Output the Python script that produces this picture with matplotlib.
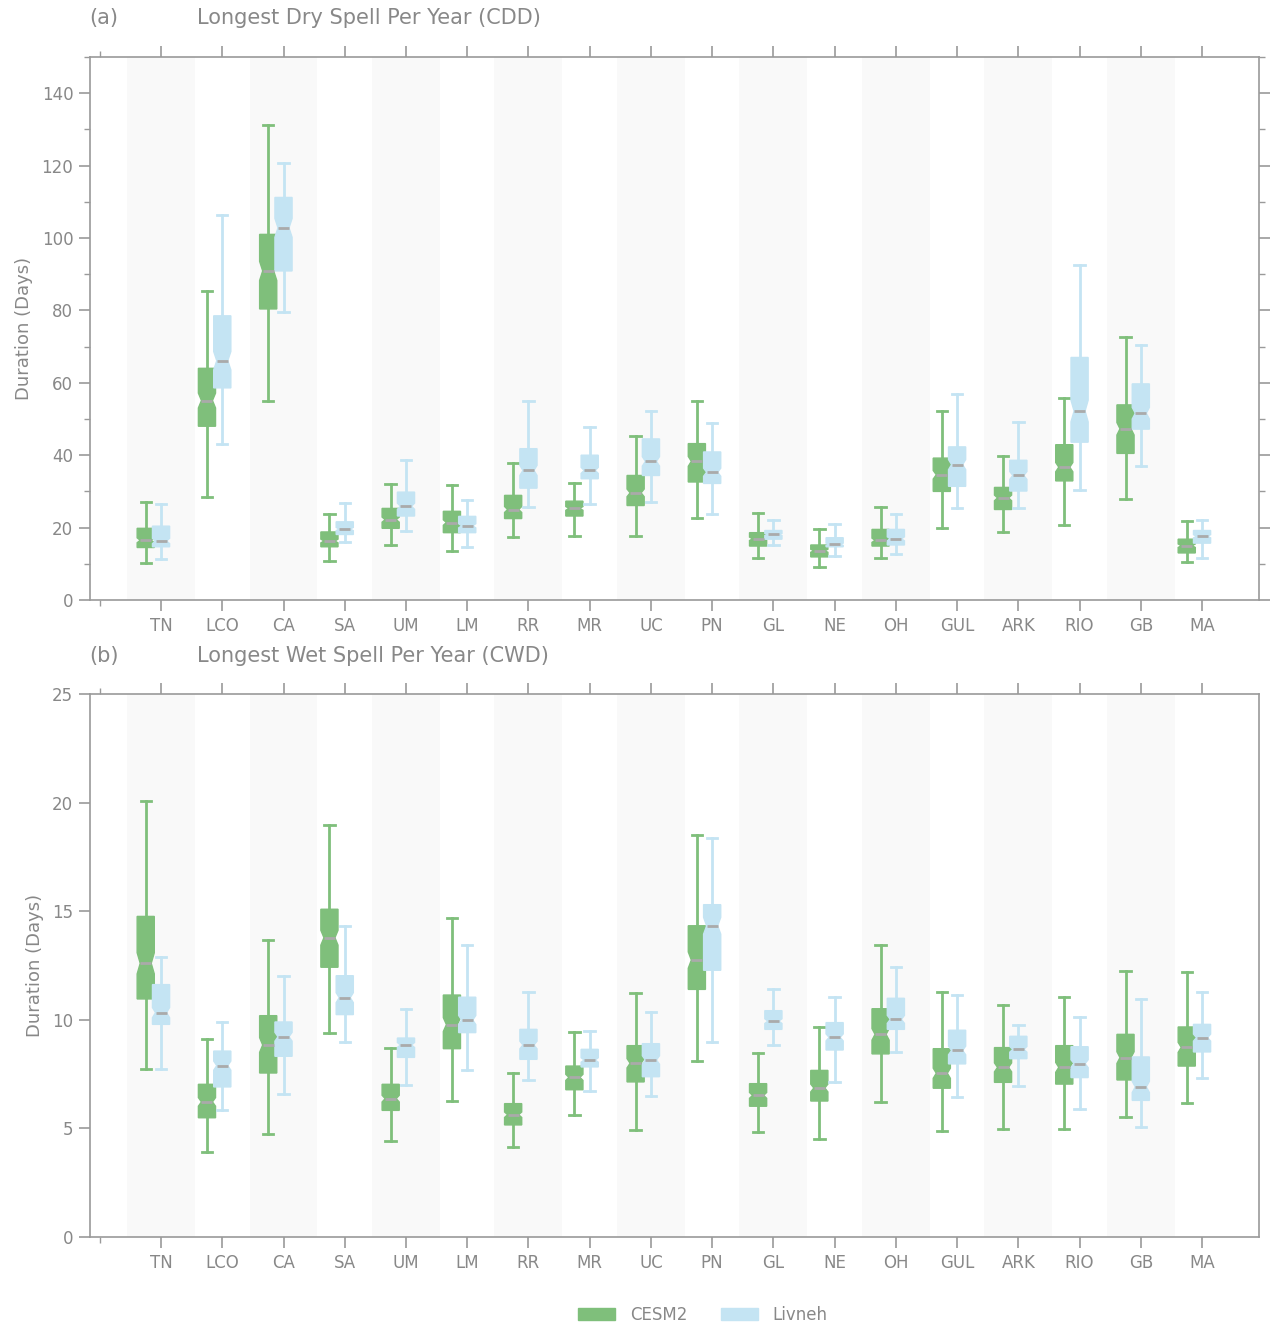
import matplotlib
matplotlib.use("Agg")
import matplotlib.pyplot as plt
import numpy as np
from matplotlib.patches import Patch
from matplotlib.path import Path
from matplotlib.ticker import MultipleLocator, FixedLocator

plt.rcParams["font.family"] = ["DejaVu Sans"]

regions = ["TN", "LCO", "CA", "SA", "UM", "LM", "RR", "MR", "UC", "PN",
           "GL", "NE", "OH", "GUL", "ARK", "RIO", "GB", "MA"]

# ---- (a) CDD: whisker low, q1, median, q3, whisker high ----
cdd_cesm_wlo = [10.1, 28.5, 55.1, 10.7, 15.2, 13.6, 17.3, 17.8, 17.8, 22.6, 11.6, 9.2, 11.6, 19.8, 18.9, 20.8, 27.9, 10.4]
cdd_cesm_q1  = [14.5, 48.0, 80.4, 14.7, 19.8, 18.6, 22.5, 23.2, 26.1, 32.6, 14.9, 11.9, 14.9, 30.0, 25.0, 32.9, 40.5, 13.0]
cdd_cesm_med = [16.5, 55.1, 90.9, 16.3, 22.2, 21.4, 25.0, 25.3, 29.6, 38.3, 16.9, 13.6, 16.5, 34.6, 28.2, 36.7, 47.3, 15.0]
cdd_cesm_q3  = [19.8, 64.0, 101.0, 18.8, 25.3, 24.5, 28.9, 27.3, 34.4, 43.2, 18.6, 15.2, 19.5, 39.2, 31.1, 42.9, 53.9, 16.8]
cdd_cesm_whi = [27.1, 85.4, 131.1, 23.8, 32.1, 31.8, 37.8, 32.3, 45.4, 55.1, 24.1, 19.6, 25.6, 52.3, 39.7, 55.8, 72.7, 21.7]

cdd_liv_wlo = [11.3, 43.0, 79.5, 15.9, 19.0, 14.6, 25.7, 26.5, 27.0, 23.7, 15.1, 12.2, 12.8, 25.5, 25.3, 30.3, 37.0, 11.6]
cdd_liv_q1  = [14.7, 58.6, 90.9, 18.1, 23.2, 18.6, 30.9, 33.5, 34.4, 32.2, 16.8, 14.7, 15.2, 31.4, 30.1, 43.6, 47.2, 15.7]
cdd_liv_med = [16.3, 66.1, 102.8, 19.6, 25.9, 20.5, 35.8, 35.8, 38.3, 35.3, 18.1, 15.4, 16.9, 37.4, 34.4, 52.2, 51.6, 17.6]
cdd_liv_q3  = [20.4, 78.5, 111.2, 21.6, 29.8, 23.1, 41.8, 40.0, 44.5, 40.9, 19.2, 17.2, 19.5, 42.3, 38.6, 67.0, 59.7, 19.2]
cdd_liv_whi = [26.5, 106.4, 120.7, 26.8, 38.6, 27.7, 54.9, 47.8, 52.2, 49.0, 22.0, 20.9, 23.8, 57.0, 49.2, 92.5, 70.5, 22.0]

# ---- (b) CWD ----
cwd_cesm_wlo = [7.75, 3.90, 4.73, 9.38, 4.43, 6.26, 4.14, 5.63, 4.93, 8.10, 4.83, 4.53, 6.22, 4.88, 4.97, 4.97, 5.52, 6.17]
cwd_cesm_q1  = [10.96, 5.49, 7.55, 12.42, 5.83, 8.67, 5.16, 6.78, 7.14, 11.40, 6.02, 6.26, 8.43, 6.85, 7.12, 7.04, 7.23, 7.87]
cwd_cesm_med = [12.60, 6.22, 8.84, 13.78, 6.37, 9.78, 5.63, 7.35, 8.00, 12.75, 6.52, 6.86, 9.33, 7.54, 7.81, 7.81, 8.26, 8.73]
cwd_cesm_q3  = [14.76, 7.03, 10.19, 15.09, 7.03, 11.14, 6.14, 7.87, 8.81, 14.33, 7.06, 7.67, 10.51, 8.67, 8.72, 8.81, 9.33, 9.67]
cwd_cesm_whi = [20.09, 9.13, 13.69, 18.95, 8.70, 14.70, 7.55, 9.42, 11.22, 18.49, 8.49, 9.68, 13.44, 11.28, 10.67, 11.06, 12.26, 12.20]

cwd_liv_wlo = [7.75, 5.86, 6.60, 8.98, 7.01, 7.70, 7.24, 6.71, 6.51, 8.98, 8.84, 7.15, 8.53, 6.46, 6.97, 5.91, 5.08, 7.31]
cwd_liv_q1  = [9.79, 6.91, 8.32, 10.24, 8.27, 9.41, 8.18, 7.83, 7.38, 12.28, 9.56, 8.61, 9.56, 7.97, 8.21, 7.34, 6.29, 8.52]
cwd_liv_med = [10.33, 7.89, 9.22, 11.02, 8.84, 9.99, 8.84, 8.15, 8.15, 14.33, 9.94, 9.19, 10.02, 8.59, 8.64, 7.98, 6.91, 9.18]
cwd_liv_q3  = [11.62, 8.56, 9.90, 12.03, 9.16, 11.04, 9.56, 8.64, 8.90, 15.30, 10.42, 9.87, 10.99, 9.52, 9.24, 8.76, 8.29, 9.79]
cwd_liv_whi = [12.91, 9.88, 12.02, 14.33, 10.48, 13.46, 11.28, 9.50, 10.37, 18.39, 11.42, 11.06, 12.45, 11.13, 9.78, 10.13, 10.97, 11.28]

n_samples = 150  # sample size used for notch confidence intervals

GREEN = "#7fbf7b"
BLUE = "#c4e4f3"
MED = "#aaaaaa"
TXT = "#888888"
SPINE = "#9a9a9a"
SHADE = "#f9f9f9"
BOXW = 0.28
NOTCH_FRAC = 0.32  # half-width of the notch waist relative to box width


def make_stats(wlo, q1, med, q3, whi):
    stats = []
    for a, b, c, d, e in zip(wlo, q1, med, q3, whi):
        half = 1.57 * (d - b) / np.sqrt(n_samples)
        stats.append(dict(whislo=a, q1=b, med=c, q3=d, whishi=e,
                          cilo=c - half, cihi=c + half, fliers=[]))
    return stats


def draw_boxes(ax, stats, positions, color):
    res = ax.bxp(stats, positions=positions, widths=BOXW, shownotches=True,
                 patch_artist=True, showfliers=False, manage_ticks=False,
                 boxprops=dict(facecolor=color, edgecolor=color, linewidth=1.0),
                 whiskerprops=dict(color=color, linewidth=2.0),
                 capprops=dict(color=color, linewidth=2.0),
                 medianprops=dict(color=MED, linewidth=2.0),
                 capwidths=0.17)
    # make the notch waist a bit shallower than matplotlib's default
    for patch, pos in zip(res["boxes"], positions):
        v = patch.get_path().vertices.copy()
        for k in range(len(v)):
            if abs(abs(v[k, 0] - pos) - BOXW / 4) < 1e-9:
                v[k, 0] = pos + np.sign(v[k, 0] - pos) * NOTCH_FRAC * BOXW
        patch.set_path(Path(v, patch.get_path().codes))
    for line, pos in zip(res["medians"], positions):
        line.set_xdata([pos - NOTCH_FRAC * BOXW, pos + NOTCH_FRAC * BOXW])


fig = plt.figure(figsize=(12.73, 13.25), dpi=100)
W, H = 1273.0, 1325.0
ax1 = fig.add_axes([90 / W, 1 - 600 / H, (1259 - 90) / W, (600 - 57) / H])
ax2 = fig.add_axes([90 / W, 1 - 1237 / H, (1259 - 90) / W, (1237 - 694) / H])

xpos = np.arange(1, len(regions) + 1)

panels = [
    (ax1, make_stats(cdd_cesm_wlo, cdd_cesm_q1, cdd_cesm_med, cdd_cesm_q3, cdd_cesm_whi),
     make_stats(cdd_liv_wlo, cdd_liv_q1, cdd_liv_med, cdd_liv_q3, cdd_liv_whi),
     (0, 150), 20, 10, True),
    (ax2, make_stats(cwd_cesm_wlo, cwd_cesm_q1, cwd_cesm_med, cwd_cesm_q3, cwd_cesm_whi),
     make_stats(cwd_liv_wlo, cwd_liv_q1, cwd_liv_med, cwd_liv_q3, cwd_liv_whi),
     (0, 25), 5, None, False),
]

for ax, s_c, s_l, ylim, major, minor, right_ticks in panels:
    for i, x in enumerate(xpos):
        if i % 2 == 0:
            ax.axvspan(x - 0.555, x + 0.555, color=SHADE, lw=0, zorder=0)
    draw_boxes(ax, s_c, xpos - 0.25, GREEN)
    draw_boxes(ax, s_l, xpos, BLUE)
    ax.set_xlim(-0.16, 18.93)
    ax.set_ylim(*ylim)
    ax.yaxis.set_major_locator(MultipleLocator(major))
    if minor:
        ax.yaxis.set_minor_locator(MultipleLocator(minor))
    ax.set_xticks(xpos)
    ax.set_xticklabels(regions)
    ax.xaxis.set_minor_locator(FixedLocator([0]))
    ax.tick_params(axis="x", which="both", top=True, bottom=True, direction="out",
                   colors=SPINE, labelcolor=TXT, labelsize=12)
    ax.tick_params(axis="y", which="both", left=True, right=right_ticks, direction="out",
                   colors=SPINE, labelcolor=TXT, labelsize=12)
    ax.tick_params(which="major", length=8, width=1.2, pad=4)
    ax.tick_params(which="minor", length=4, width=1.0)
    for sp in ax.spines.values():
        sp.set_color(SPINE)
        sp.set_linewidth(1.2)
    ax.set_ylabel("Duration (Days)", color=TXT, fontsize=13, labelpad=6)
    ax.set_facecolor("white")

fig.text(89 / W, 1 - 18 / H, "(a)", fontsize=15, color=TXT, va="center", ha="left")
fig.text(197 / W, 1 - 18 / H, "Longest Dry Spell Per Year (CDD)", fontsize=15,
         color=TXT, va="center", ha="left")
fig.text(89 / W, 1 - 656 / H, "(b)", fontsize=15, color=TXT, va="center", ha="left")
fig.text(197 / W, 1 - 656 / H, "Longest Wet Spell Per Year (CWD)", fontsize=15,
         color=TXT, va="center", ha="left")

handles = [Patch(facecolor=GREEN, edgecolor=GREEN, label="CESM2"),
           Patch(facecolor=BLUE, edgecolor=BLUE, label="Livneh")]
leg = fig.legend(handles=handles, loc="center", bbox_to_anchor=(703 / W, 1 - 1315 / H),
                 ncol=2, frameon=False, fontsize=12, handlelength=2.2,
                 handleheight=0.75, handletextpad=0.9, columnspacing=2.0)
for t in leg.get_texts():
    t.set_color(TXT)

fig.savefig("out.png", dpi=100)
